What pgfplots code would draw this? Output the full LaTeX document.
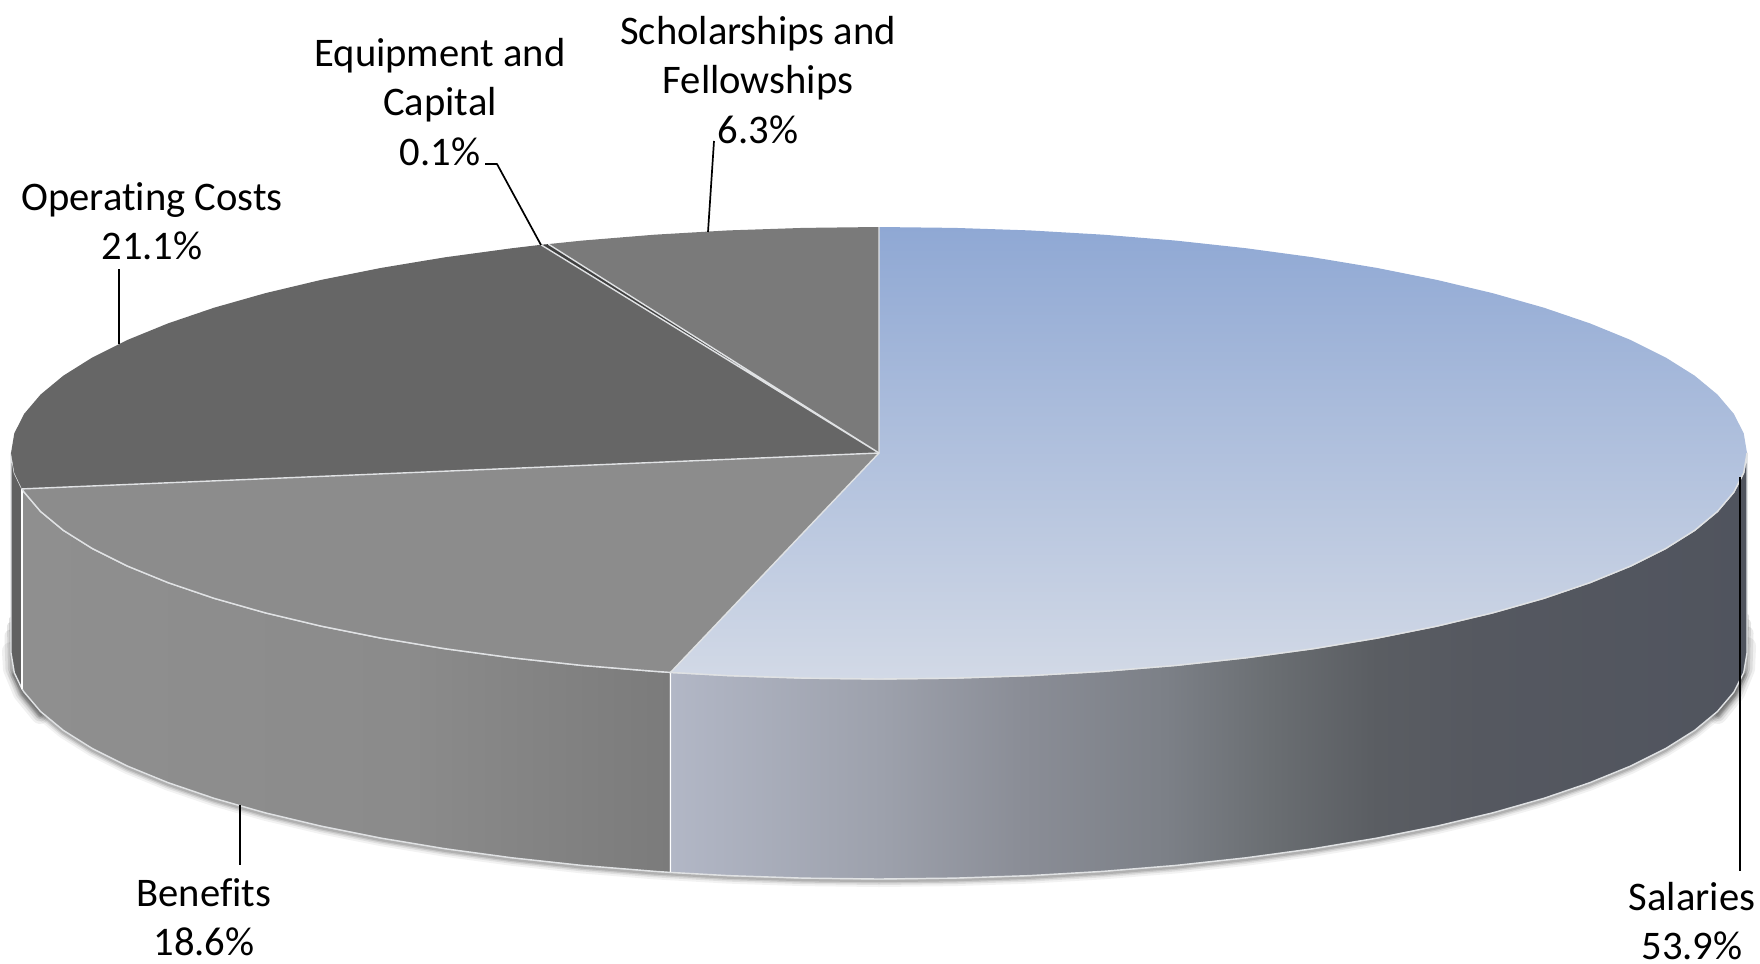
\documentclass[border=0pt]{standalone}
\usepackage{pgfplots}
\pgfplotsset{compat=1.18}
\usepackage{fontspec}
\setmainfont{Carlito}[Ligatures=CommonOff]

% colours
\definecolor{salA}{HTML}{8FA8D4}
\definecolor{salB}{HTML}{D2D9E6}
\definecolor{s0}{HTML}{B2B7C6}
\definecolor{s1}{HTML}{9DA1AC}
\definecolor{s2}{HTML}{8A8D96}
\definecolor{s3}{HTML}{7C8087}
\definecolor{s4}{HTML}{6A6E72}
\definecolor{s5}{HTML}{5A5D62}
\definecolor{s6}{HTML}{555860}
\definecolor{s7}{HTML}{50545E}
\definecolor{b0}{HTML}{8F8F8F}
\definecolor{b1}{HTML}{8B8B8B}
\definecolor{b2}{HTML}{7B7B7B}
\definecolor{edge}{HTML}{E0E2E4}

\pgfdeclarehorizontalshading{salside}{100bp}{color(0bp)=(s0); color(25bp)=(s0); color(34.8bp)=(s1); color(41.4bp)=(s2); color(48bp)=(s3); color(52.9bp)=(s4); color(57.8bp)=(s5); color(62.7bp)=(s6); color(75bp)=(s7); color(100bp)=(s7)}
\pgfdeclarehorizontalshading{benside}{100bp}{color(0bp)=(b0); color(25bp)=(b0); color(55bp)=(b1); color(75bp)=(b2); color(100bp)=(b2)}

\tikzset{
    lbl/.style={font=\fontsize{20.3}{24.7}\selectfont, align=center, inner sep=0pt, text=black},
    leader/.style={draw=black, line width=0.85pt},
    rim/.style={draw=edge, line width=0.7pt},
    soft/.style={draw=black, line cap=round},
}

\begin{document}
\begin{tikzpicture}
\useasboundingbox (0,0) rectangle (880pt,481.5pt);
\begin{axis}[
    at={(0,0)}, anchor=south west,
    width=880pt, height=481.5pt,
    scale only axis,
    hide axis,
    clip=false,
    xmin=0, xmax=1760,
    ymin=-1, ymax=962,
    y dir=reverse,
    no marks,
    every axis plot/.append style={line join=round},
]
% soft shadow under the rim
\pgfplotstableread{
x y
14.3 673.7
24.2 693.2
40.6 712.5
63.3 731.3
92.3 749.5
127.3 767
168 783.6
214.1 799.3
265.2 813.8
321.1 827.1
381.1 839.1
445 849.7
512.2 858.8
582.1 866.4
654.4 872.3
728.3 876.6
803.3 879.1
879 880
954.7 879.1
1029.7 876.6
1103.6 872.3
1175.9 866.4
1245.8 858.8
1313 849.7
1376.9 839.1
1436.9 827.1
1492.8 813.8
1543.9 799.3
1590 783.6
1630.7 767
1665.7 749.5
1694.7 731.3
1717.4 712.5
1733.8 693.2
1743.7 673.7
}\shadowarc
\addplot[soft, opacity=0.05, line width=6pt] table {\shadowarc};
\addplot[soft, opacity=0.08, line width=4pt] table {\shadowarc};
\addplot[soft, opacity=0.10, line width=2.5pt] table {\shadowarc};
\addplot[soft, opacity=0.12, line width=1.2pt] table {\shadowarc};
% darker at the two ends
\addplot[soft, opacity=0.06, line width=9pt] coordinates {(11,650) (12,668) (22,692) (40,714)};
\addplot[soft, opacity=0.08, line width=6.5pt] coordinates {(11,635) (12,668) (22,692) (40,714)};
\addplot[soft, opacity=0.10, line width=4pt] coordinates {(11,625) (12,668) (22,692) (40,714)};
\addplot[soft, opacity=0.12, line width=2pt] coordinates {(11,618) (12,668) (22,692) (40,714)};
\addplot[soft, opacity=0.06, line width=9pt] coordinates {(1747,645) (1746,668) (1736,692) (1718,714)};
\addplot[soft, opacity=0.08, line width=6.5pt] coordinates {(1747,632) (1746,668) (1736,692) (1718,714)};
\addplot[soft, opacity=0.10, line width=4pt] coordinates {(1747,622) (1746,668) (1736,692) (1718,714)};
\addplot[soft, opacity=0.12, line width=2pt] coordinates {(1747,615) (1746,668) (1736,692) (1718,714)};

% rim: operating costs
\addplot[fill=black!62, rim] coordinates {
(11,452) (14.3,471.7) (22,487.9) (22,687.9) (14.3,671.7) (11,652)
} -- cycle;
% rim: benefits
\addplot[shade, shading=benside, rim] coordinates {
(670.5,671.4) (654.4,670.3) (582.1,664.4) (512.2,656.8) (445,647.7) (381.1,637.1)
(321.1,625.1) (265.2,611.8) (214.1,597.3) (168,581.6) (127.3,565) (92.3,547.5)
(63.3,529.3) (40.6,510.5) (24.2,491.2) (22,487.9)
(22,687.9) (24.2,691.2) (40.6,710.5) (63.3,729.3) (92.3,747.5) (127.3,765) (168,781.6)
(214.1,797.3) (265.2,811.8) (321.1,825.1) (381.1,837.1) (445,847.7) (512.2,856.8)
(582.1,864.4) (654.4,870.3) (670.5,871.4)
} -- cycle;
% rim: salaries
\addplot[shade, shading=salside, rim] coordinates {
(1747,452) (1743.7,471.7) (1733.8,491.2) (1717.4,510.5) (1694.7,529.3) (1665.7,547.5)
(1630.7,565) (1590,581.6) (1543.9,597.3) (1492.8,611.8) (1436.9,625.1) (1376.9,637.1)
(1313,647.7) (1245.8,656.8) (1175.9,664.4) (1103.6,670.3) (1029.7,674.6) (954.7,677.1)
(879,678) (803.3,677.1) (728.3,674.6) (670.5,671.4)
(670.5,871.4) (728.3,874.6) (803.3,877.1) (879,878) (954.7,877.1) (1029.7,874.6)
(1103.6,870.3) (1175.9,864.4) (1245.8,856.8) (1313,847.7) (1376.9,837.1) (1436.9,825.1)
(1492.8,811.8) (1543.9,797.3) (1590,781.6) (1630.7,765) (1665.7,747.5) (1694.7,729.3)
(1717.4,710.5) (1733.8,691.2) (1743.7,671.7) (1747,652)
} -- cycle;

% top: scholarships and fellowships, 6.3
\addplot[fill=black!52, draw=none] coordinates {
(548.3,243.1) (582.1,239.6) (654.4,233.7) (728.3,229.4) (803.3,226.9) (879,226) (879,452)
} -- cycle;
% top: operating costs, 21.1
\addplot[fill=black!60, draw=none] coordinates {
(22,487.9) (14.3,471.7) (11,452) (14.3,432.3) (24.2,412.8) (40.6,393.5) (63.3,374.7)
(92.3,356.5) (127.3,339) (168,322.4) (214.1,306.7) (265.2,292.2) (321.1,278.9)
(381.1,266.9) (445,256.3) (512.2,247.2) (541,243.8) (879,452)
} -- cycle;
% top: benefits, 18.6
\addplot[fill=black!45, draw=none] coordinates {
(670.5,671.4) (654.4,670.3) (582.1,664.4) (512.2,656.8) (445,647.7) (381.1,637.1)
(321.1,625.1) (265.2,611.8) (214.1,597.3) (168,581.6) (127.3,565) (92.3,547.5)
(63.3,529.3) (40.6,510.5) (24.2,491.2) (22,487.9) (879,452)
} -- cycle;
% top: salaries, 53.9
\addplot[top color=salA, bottom color=salB, draw=none] coordinates {
(879,226) (954.7,226.9) (1029.7,229.4) (1103.6,233.7) (1175.9,239.6) (1245.8,247.2)
(1313,256.3) (1376.9,266.9) (1436.9,278.9) (1492.8,292.2) (1543.9,306.7) (1590,322.4)
(1630.7,339) (1665.7,356.5) (1694.7,374.7) (1717.4,393.5) (1733.8,412.8) (1743.7,432.3)
(1747,452) (1743.7,471.7) (1733.8,491.2) (1717.4,510.5) (1694.7,529.3) (1665.7,547.5)
(1630.7,565) (1590,581.6) (1543.9,597.3) (1492.8,611.8) (1436.9,625.1) (1376.9,637.1)
(1313,647.7) (1245.8,656.8) (1175.9,664.4) (1103.6,670.3) (1029.7,674.6) (954.7,677.1)
(879,678) (803.3,677.1) (728.3,674.6) (670.5,671.4) (879,452)
} -- cycle;
% top: equipment and capital, 0.1
\addplot[fill=black!75, draw=none] coordinates {
(541,243.8) (548.3,243.1) (879,452)
} -- cycle;

% pale lines between the slices and along the front
\addplot[rim] coordinates {(879,226) (879,452) (670.5,671.4)};
\addplot[rim] coordinates {(22,487.9) (879,452)};
\addplot[rim] coordinates {(541,243.8) (879,452) (548.3,243.1)};
\addplot[draw=white, line width=0.7pt] coordinates {(670.5,671.4) (670.5,871.4)};
\addplot[draw=white, line width=0.7pt] coordinates {(22,487.9) (22,687.9)};
\addplot[rim] coordinates {
(22,487.9) (24.2,491.2) (40.6,510.5) (63.3,529.3) (92.3,547.5) (127.3,565) (168,581.6)
(214.1,597.3) (265.2,611.8) (321.1,625.1) (381.1,637.1) (445,647.7) (512.2,656.8)
(582.1,664.4) (654.4,670.3) (670.5,671.4) (728.3,674.6) (803.3,677.1) (879,678)
(954.7,677.1) (1029.7,674.6) (1103.6,670.3) (1175.9,664.4) (1245.8,656.8) (1313,647.7)
(1376.9,637.1) (1436.9,625.1) (1492.8,611.8) (1543.9,597.3) (1590,581.6) (1630.7,565)
(1665.7,547.5) (1694.7,529.3) (1717.4,510.5) (1733.8,491.2) (1743.7,471.7) (1747,452)
};

% leader lines
\addplot[leader] coordinates {(119,268) (119,343)};
\addplot[leader] coordinates {(714,140) (708,231)};
\addplot[leader] coordinates {(485,163) (497,163) (541,244)};
\addplot[leader] coordinates {(1740,476) (1740,870)};
\addplot[leader] coordinates {(240,804) (240,864)};

% labels
\node[lbl] at (axis cs:758,79) {Scholarships and\\Fellowships\\6.3\%};
\node[lbl] at (axis cs:440,101) {Equipment and\\Capital\\0.1\%};
\node[lbl] at (axis cs:152,220) {Operating Costs\\21.1\%};
\node[lbl] at (axis cs:204,916) {Benefits\\18.6\%};
\node[lbl] at (axis cs:1692,920) {Salaries\\53.9\%};
\end{axis}
\end{tikzpicture}
\end{document}
